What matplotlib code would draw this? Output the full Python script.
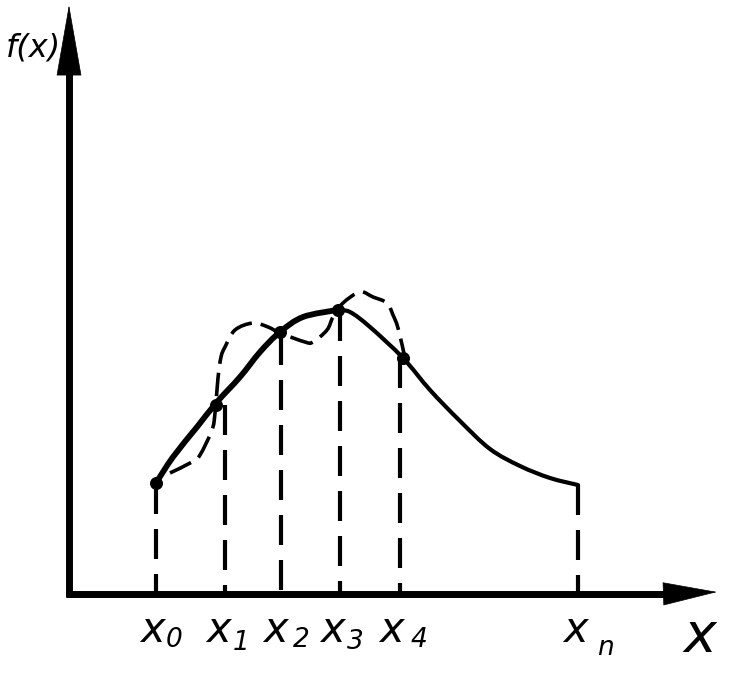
import matplotlib
matplotlib.use("Agg")
import matplotlib.pyplot as plt
from matplotlib.patches import PathPatch
from matplotlib.path import Path

# values (origin at the axes corner, 1 unit = 1 px)
curve_left_x = [87, 104, 128, 148, 171, 191, 211, 234, 268]
curve_left_y = [111, 137, 167, 192, 217, 242, 262, 277, 284]
curve_right_x = [268, 281, 301, 334, 361, 391, 421, 451, 481, 509]
curve_right_y = [284, 282, 267, 236, 204, 173, 145, 128, 116, 109]

approx_x = [101, 123, 131, 143, 146, 149, 152, 156, 166, 184, 199, 211, 236, 244, 258,
            264, 274, 291, 304, 318, 324, 329, 336]
approx_y = [121, 132, 139, 164, 181, 216, 237, 247, 264, 271, 267, 261, 252, 252, 264,
            277, 291, 302, 297, 291, 279, 266, 236]

node_x = [87, 156, 212, 271, 331, 509]
node_top = [110, 189, 259, 283, 236, 109]
dot_x = [87, 147, 211, 269, 334]
dot_y = [111, 189, 262, 284, 236]

main_label_x = [83, 149, 206, 263, 322, 506]
sub_labels = ["0", "1", "2", "3", "4", "n"]
sub_label_x = [105, 172, 232, 286, 350, 536]
sub_label_y = [-46, -49, -46, -48, -46, -54]


def smooth_path(xs, ys):
    # Catmull-Rom through the read points, as bezier segments
    pts = list(zip(xs, ys))
    verts = [pts[0]]
    codes = [Path.MOVETO]
    for i in range(len(pts) - 1):
        p0 = pts[max(i - 1, 0)]
        p1 = pts[i]
        p2 = pts[i + 1]
        p3 = pts[min(i + 2, len(pts) - 1)]
        c1 = (p1[0] + (p2[0] - p0[0]) / 6, p1[1] + (p2[1] - p0[1]) / 6)
        c2 = (p2[0] - (p3[0] - p1[0]) / 6, p2[1] - (p3[1] - p1[1]) / 6)
        verts += [c1, c2, p2]
        codes += [Path.CURVE4] * 3
    return Path(verts, codes)


fig = plt.figure(figsize=(7.41, 6.86), dpi=100)
ax = fig.add_axes([0, 0, 1, 1])
ax.set_xlim(-69, 672)
ax.set_ylim(-92, 594)
ax.axis("off")

# axes with arrow heads
ax.plot([-3, 600], [0, 0], color="black", lw=5, solid_capstyle="butt")
ax.plot([0, 0], [-3, 530], color="black", lw=5, solid_capstyle="butt")
ax.annotate("", xy=(648, 2), xytext=(590, 0),
            arrowprops=dict(arrowstyle="-|>,head_length=1.87,head_width=0.4", lw=0.5,
                            color="black", shrinkA=0, shrinkB=0, mutation_scale=20))
ax.annotate("", xy=(0, 589), xytext=(0, 515),
            arrowprops=dict(arrowstyle="-|>,head_length=2.45,head_width=0.43", lw=0.5,
                            color="black", shrinkA=0, shrinkB=0, mutation_scale=20))

# function curve, heavier on the left
ax.add_patch(PathPatch(smooth_path(curve_left_x, curve_left_y), fill=False, lw=4.2,
                       capstyle="round"))
ax.add_patch(PathPatch(smooth_path(curve_right_x, curve_right_y), fill=False, lw=3.0,
                       capstyle="round"))

# dashed approximation
ax.add_patch(PathPatch(smooth_path(approx_x, approx_y), fill=False, lw=2.6,
                       linestyle=(0, (6.5, 2.5))))

ax.scatter(dot_x, dot_y, s=70, color="black", zorder=3)

# dashed drop lines
for x, top in zip(node_x, node_top):
    ax.plot([x, x], [top, 0], color="black", lw=3, linestyle=(0, (7.2, 3.6)))

for x in main_label_x:
    ax.text(x, -36, "x", fontsize=30, style="italic", ha="center", va="center", color="black")
for x, y, lab in zip(sub_label_x, sub_label_y, sub_labels):
    ax.text(x, y, lab, fontsize=19, style="italic", ha="center", va="center", color="black")

ax.text(631, -42, "x", fontsize=40, style="italic", ha="center", va="center", color="black")
ax.text(-36, 546, "f(x)", fontsize=23, style="italic", ha="center", va="center", color="black")

fig.savefig("out.png", dpi=100, facecolor="white")
